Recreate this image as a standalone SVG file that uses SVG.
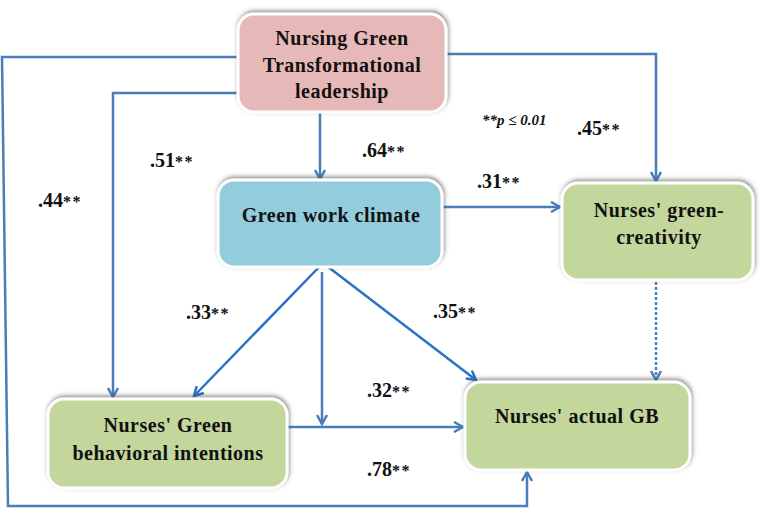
<svg xmlns="http://www.w3.org/2000/svg" width="762" height="508" viewBox="0 0 762 508">
<defs>
<style>
.box{stroke:#fff;stroke-width:3;filter:url(#sh)}
.t{font-family:"Liberation Serif","Times New Roman",serif;font-weight:bold;font-size:20px;letter-spacing:0.5px;fill:#111;text-anchor:middle}
.c{font-family:"Liberation Serif","Times New Roman",serif;font-weight:bold;font-size:20px;fill:#111}
.s{font-size:16px;letter-spacing:1.5px}
.ln{fill:none;stroke:#4A7EBB;stroke-width:2.5;marker-end:url(#ah)}
.dg{stroke:#2A72C4}
.dot{stroke-dasharray:3 2}
</style>
<marker id="ah" viewBox="0 0 12 12" refX="10" refY="6" markerWidth="12" markerHeight="12" markerUnits="userSpaceOnUse" orient="auto">
<path d="M1,1 L10,6 L1,11" fill="none" stroke="context-stroke" stroke-width="2.5"/>
</marker>
<filter id="sh" x="-10%" y="-15%" width="120%" height="130%">
<feDropShadow dx="1" dy="-2" stdDeviation="2" flood-color="#444" flood-opacity="0.6"/>
</filter>
</defs>
<rect width="762" height="508" fill="#fff"/>
<g id="connectors">
<path class="ln" d="M320 112 L320 179"/>
<path class="ln" d="M238 93 L113 93 L113 397"/>
<path class="ln" d="M446 54 L656 54 L656 181"/>
<path class="ln" d="M238 57 L2 57 L8 506 L527 506 L527 472"/>
<path class="ln" d="M442 207 L560 207"/>
<path class="ln dg" d="M323 263 L194 396"/>
<path class="ln dg" d="M323 263 L476 380"/>
<path class="ln" d="M322 272 L322 424"/>
<path class="ln" d="M287 427 L463 427"/>
<path class="ln dot" d="M656 282 L656 380"/>
</g>
<g id="n-leadership">
<rect class="box" x="238" y="14" width="208" height="98" rx="16" fill="#E6B9B8"/>
<text class="t" x="342" y="45">Nursing Green</text>
<text class="t" x="342" y="72">Transformational</text>
<text class="t" x="342" y="98">leadership</text>
</g>
<g id="n-climate">
<rect class="box" x="218" y="180" width="224" height="87" rx="16" fill="#93CDDD"/>
<text class="t" x="331" y="222">Green work climate</text>
</g>
<g id="n-creativity">
<rect class="box" x="562" y="183" width="191" height="97" rx="16" fill="#C3D69B"/>
<text class="t" x="659" y="217">Nurses' green-</text>
<text class="t" x="659" y="244">creativity</text>
</g>
<g id="n-intentions">
<rect class="box" x="48" y="399" width="239" height="89" rx="16" fill="#C3D69B"/>
<text class="t" x="168" y="432">Nurses' Green</text>
<text class="t" x="168" y="460">behavioral intentions</text>
</g>
<g id="n-actual">
<rect class="box" x="465" y="382" width="225" height="88" rx="16" fill="#C3D69B"/>
<text class="t" x="577" y="423">Nurses' actual GB</text>
</g>
<g id="labels">
<text class="c" x="362" y="157">.64<tspan class="s">**</tspan></text>
<text class="c" x="150" y="167">.51<tspan class="s">**</tspan></text>
<text class="c" x="38" y="207">.44<tspan class="s">**</tspan></text>
<text class="c" x="577" y="135">.45<tspan class="s">**</tspan></text>
<text class="c" x="477" y="188">.31<tspan class="s">**</tspan></text>
<text class="c" x="186" y="319">.33<tspan class="s">**</tspan></text>
<text class="c" x="433" y="318">.35<tspan class="s">**</tspan></text>
<text class="c" x="367" y="397">.32<tspan class="s">**</tspan></text>
<text class="c" x="367" y="476">.78<tspan class="s">**</tspan></text>
<text class="c" x="482" y="125" style="font-style:italic;font-size:15px">**p ≤ 0.01</text>
</g>
</svg>
